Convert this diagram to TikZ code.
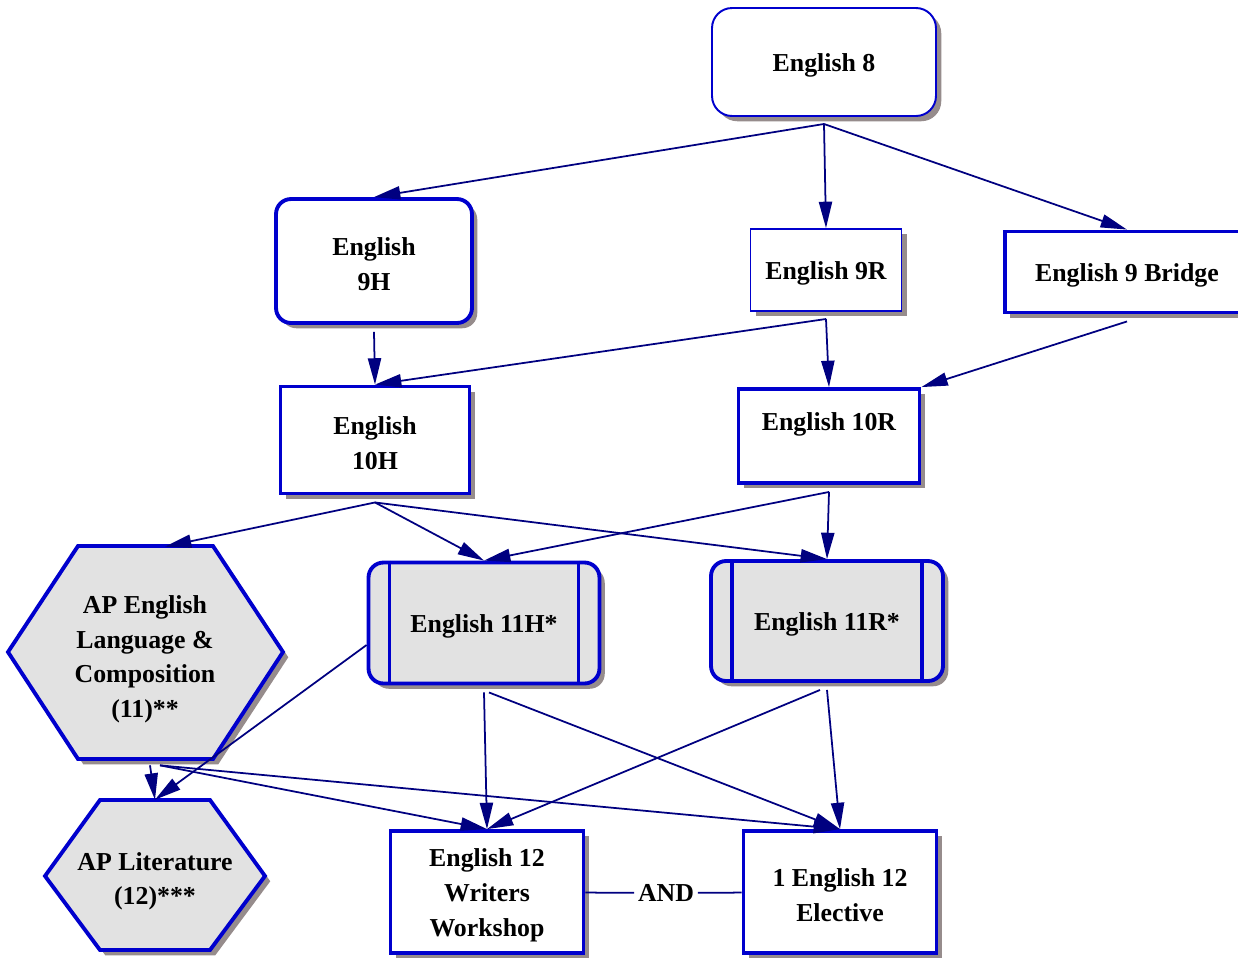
\documentclass[tikz,border=0pt]{standalone}
\usepackage{fontspec}
\setmainfont{Liberation Serif}
\usepackage{xcolor}
\usepackage{tikz}
\usetikzlibrary{arrows.meta,shadows}

\definecolor{boxblue}{RGB}{0,0,205}
\definecolor{edgenavy}{RGB}{0,0,128}
\definecolor{shadowgray}{RGB}{150,140,140}
\definecolor{dotgray}{RGB}{226,226,226}

% strut on the first line, sets the text a little lower in its box
\newcommand{\padtop}{\rule{0pt}{14pt}}

\tikzset{
  course/.style={draw=boxblue, fill=white, line width=2.2pt, align=center, inner sep=0pt,
    font=\fontsize{14.7}{19.8}\selectfont\bfseries,
    drop shadow={shadow xshift=3pt, shadow yshift=-3pt, fill=shadowgray, opacity=1}},
  thin border/.style={line width=1.1pt},
  rounded course/.style={rounded corners=0.3cm},
  dotfill/.style={fill=dotgray},
  hexa/.style={draw=boxblue, fill=dotgray, line width=2.2pt,
    drop shadow={shadow xshift=3pt, shadow yshift=-3pt, fill=shadowgray, opacity=1}},
  hexlabel/.style={align=center, inner sep=0pt, font=\fontsize{14.7}{19.8}\selectfont\bfseries},
  joinlabel/.style={hexlabel, inner sep=2pt},
  link/.style={edgenavy, line width=1pt, -{Triangle[length=15pt,width=7.5pt]}},
  divider/.style={boxblue, line width=2pt}
}

\begin{document}
\begin{tikzpicture}[x=0.02cm, y=-0.02cm]
  \path[use as bounding box, fill=white] (0,0) rectangle (1238,958);

  % grades 8 to 10
  \node[course, thin border, rounded corners=0.4cm, minimum width=4.48cm, minimum height=2.16cm] (eng8) at (824,62) {\padtop English 8};
  \node[course, rounded course, minimum width=3.92cm, minimum height=2.48cm] (eng9H) at (374,261) {\padtop English\\9H};
  \node[course, thin border, minimum width=3.02cm, minimum height=1.64cm] (eng9R) at (826,270) {\padtop English 9R};
  \node[course, minimum width=4.88cm, minimum height=1.62cm] (eng9B) at (1127,272) {\padtop English 9 Bridge};
  \node[course, minimum width=3.78cm, minimum height=2.14cm] (eng10H) at (375,440) {\padtop English\\10H};
  \node[course, minimum width=3.62cm, minimum height=1.88cm] (eng10R) at (829,436) {\padtop English 10R\\~};

  % grade 11
  \node[course, rounded course, dotfill, minimum width=4.62cm, minimum height=2.42cm] (eng11H) at (484,623) {\padtop English 11H*};
  \node[course, rounded course, dotfill, minimum width=4.64cm, minimum height=2.4cm] (eng11R) at (827,621) {\padtop English 11R*};
  \foreach \n in {eng11H,eng11R} {
    \draw[divider] ([xshift=0.46cm]\n.north west) -- ([xshift=0.46cm]\n.south west);
    \draw[divider] ([xshift=-0.46cm]\n.north east) -- ([xshift=-0.46cm]\n.south east);
  }

  \draw[hexa] (8,652) -- (78,546) -- (213,546) -- (283,652) -- (213,759) -- (78,759) -- cycle;
  \node[hexlabel, minimum width=5.5cm, minimum height=4.36cm] (apLang) at (145,656) {\padtop AP English\\Language \&\\Composition\\(11)**};

  % grade 12
  \draw[hexa] (45,876) -- (100,800) -- (210,800) -- (265,876) -- (210,950) -- (100,950) -- cycle;
  \node[hexlabel, minimum width=4.4cm, minimum height=3.12cm] (apLit) at (155,878) {\padtop AP Literature\\(12)***};
  \node[course, minimum width=3.86cm, minimum height=2.44cm] (eng12W) at (487,892) {\padtop English 12\\Writers\\Workshop};
  \node[course, minimum width=3.86cm, minimum height=2.44cm] (eng12E) at (840,892) {\padtop 1 English 12\\Elective};
  \node[joinlabel] (andlbl) at (666,893) {AND};
  \draw[edgenavy, line width=1pt] (eng12W) -- (andlbl) -- (eng12E);

  \draw[link] ([yshift=-4pt]eng8.south) -- (eng9H.north);
  \draw[link] ([yshift=-4pt]eng8.south) -- (eng9R.north);
  \draw[link] ([yshift=-4pt]eng8.south) -- (eng9B.north);
  \draw[link] ([yshift=-4pt]eng9H.south) -- (eng10H.north);
  \draw[link] ([yshift=-4pt]eng9R.south) -- (eng10H.north);
  \draw[link] ([yshift=-4pt]eng9R.south) -- (eng10R.north);
  \draw[link] ([yshift=-4pt]eng9B.south) -- (eng10R.north east);

  \draw[link] ([yshift=-4pt]eng10H.south) -- ([xshift=0.4cm]apLang.north);
  \draw[link] ([yshift=-4pt]eng10H.south) -- (eng11H.north);
  \draw[link] ([yshift=-4pt]eng10H.south) -- (eng11R.north);
  \draw[link] ([yshift=-4pt]eng10R.south) -- (eng11H.north);
  \draw[link] ([yshift=-4pt]eng10R.south) -- (eng11R.north);

  \draw[link] ([yshift=-0.44cm]eng11H.west) -- (apLit.north);
  \draw[link] ([xshift=0.1cm]apLang.south) -- (apLit.north);
  \draw[link] ([xshift=0.3cm]apLang.south) -- (eng12W.north);
  \draw[link] ([xshift=0.3cm]apLang.south) -- (eng12E.north);
  \draw[link] ([yshift=-4pt]eng11H.south) -- (eng12W.north);
  \draw[link] ([xshift=0.1cm,yshift=-4pt]eng11H.south) -- (eng12E.north);
  \draw[link] ([xshift=-0.14cm,yshift=-4pt]eng11R.south) -- (eng12W.north);
  \draw[link] ([yshift=-4pt]eng11R.south) -- (eng12E.north);
\end{tikzpicture}
\end{document}
